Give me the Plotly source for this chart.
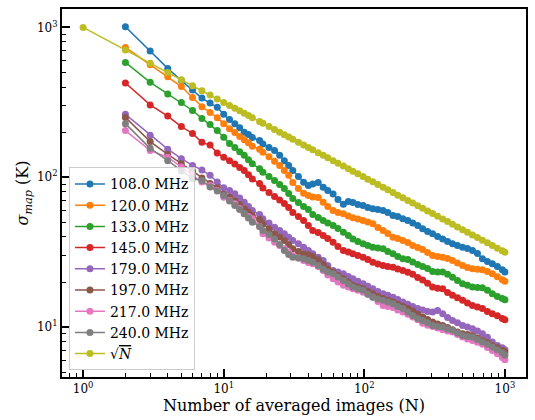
import plotly.graph_objects as go

# x grid (number of averaged images)
N_low_sqrt = [1, 2, 3, 4, 5, 6, 7, 8, 9, 10]
N_low = [2, 3, 4, 5, 6, 7, 8, 9, 10]
N_hi = [11, 12, 13, 14, 15, 16, 18, 19, 21, 23, 25, 27, 29, 31, 34, 37, 40, 43, 47, 51,
        55, 60, 65, 71, 77, 83, 90, 98, 106, 115, 125, 136, 147, 160, 173, 188, 204, 221, 240, 260,
        282, 306, 332, 361, 391, 424, 460, 500, 542, 588, 638, 692, 751, 814, 884, 958, 1000]

labels = ["108.0 MHz", "120.0 MHz", "133.0 MHz", "145.0 MHz",
          "179.0 MHz", "197.0 MHz", "217.0 MHz", "240.0 MHz"]
colors = ["#1f77b4", "#ff7f0e", "#2ca02c", "#d62728",
          "#9467bd", "#8c564b", "#e377c2", "#7f7f7f"]
sqrt_color = "#bcbd22"

s108 = [1010, 697, 533, 442, 383, 338, 313, 293, 263,
        243, 228, 214, 200, 193, 184, 176, 167, 158, 151, 140, 129, 120, 111, 101, 92.6, 88.0, 90.3, 92.2, 85.8,
        81.5, 77.4, 71.0, 66.0, 68.9, 67.8, 65.8, 64.8, 62.8, 61.6, 60.9, 60.0, 58.2, 55.5, 54.7, 52.8, 51.4, 49.5,
        47.6, 45.3, 43.5, 41.9, 40.3, 38.8, 37.3, 36.0, 35.0, 34.1, 33.5, 32.5, 31.0, 28.6, 27.4, 26.5, 25.4, 24.1, 23.3]
s120 = [736, 564, 469, 403, 341, 296, 271, 250, 228,
        211, 199, 187, 178, 170, 161, 154, 147, 137, 128, 120, 111, 103, 92.2, 84.1, 78.2, 75.6, 73.8, 73.2, 68.1,
        63.8, 60.0, 58.2, 57.0, 55.1, 53.6, 52.6, 51.4, 50.3, 48.9, 46.2, 44.1, 42.1, 39.8, 39.0, 37.8, 36.7, 35.0,
        34.0, 33.0, 31.5, 30.1, 29.6, 29.3, 28.7, 27.8, 26.8, 25.8, 25.0, 24.5, 24.3, 24.1, 23.5, 22.7, 21.7, 20.7, 20.2]
s133 = [584, 430, 360, 315, 279, 247, 225, 205, 185,
        168, 158, 148, 140, 131, 123, 114, 108, 101, 95.1, 89.4, 84.1, 77.8, 72.1, 67.8, 63.8, 60.9, 56.4, 53.9, 51.4,
        49.5, 47.6, 45.5, 43.0, 40.9, 38.8, 37.3, 36.0, 35.0, 34.1, 33.7, 33.3, 32.0, 30.9, 29.6, 28.6, 28.3, 27.2,
        26.2, 25.4, 24.6, 23.5, 23.3, 23.3, 22.5, 21.5, 20.5, 19.5, 19.0, 18.5, 18.4, 18.3, 17.6, 16.7, 16.0, 15.5, 15.2]
s145 = [426, 304, 256, 218, 196, 171, 164, 145, 136,
        129, 122.5, 116, 111, 104, 97.3, 90.8, 84.7, 79.1, 74.3, 70.5, 66.8, 62.8, 58.2, 54.7, 51.4, 47.6, 44.1, 42.8,
        40.9, 39.0, 36.9, 34.5, 32.5, 31.7, 30.9, 30.1, 29.3, 28.3, 27.1, 26.4, 25.8, 25.4, 25.1, 24.4, 23.9, 23.2,
        22.5, 21.4, 20.6, 19.6, 18.5, 18.2, 18.0, 17.0, 16.3, 15.7, 15.1, 14.5, 13.95, 13.6, 13.3, 12.7, 12.3, 11.9, 11.4, 11.2]
s179 = [263, 191, 154, 133, 120, 112, 103, 93, 85,
        81.5, 77.5, 72.7, 68.1, 63.8, 60.0, 56.4, 52.8, 49.5, 46.4, 44.1, 41.9, 39.8, 37.8, 36.0, 34.1, 32.5, 30.9,
        29.2, 27.8, 25.8, 23.9, 23.3, 22.7, 21.8, 21.0, 20.2, 19.5, 18.7, 18.0, 17.3, 16.7, 16.3, 15.85, 15.3, 14.7,
        14.2, 13.7, 13.3, 13.0, 12.7, 12.6, 12.9, 12.3, 11.6, 11.08, 10.7, 10.26, 10.0, 9.76, 9.43, 9.04, 8.54, 7.94,
        7.55, 7.27, 7.07]
s197 = [251, 173, 142, 123, 110, 99, 91, 85, 77,
        73.8, 69.9, 65.8, 61.6, 58.6, 55.5, 52.2, 48.9, 45.2, 41.9, 39.9, 37.8, 35.6, 33.3, 32.0, 30.9, 30.3, 29.6,
        28.1, 26.2, 24.4, 23.3, 22.1, 21.0, 19.9, 19.0, 18.5, 18.0, 17.3, 16.7, 16.0, 15.5, 15.1, 14.7, 14.2, 13.7,
        13.3, 12.8, 12.2, 11.7, 11.25, 10.8, 10.5, 10.26, 9.95, 9.61, 9.29, 9.04, 8.94, 8.80, 8.47, 8.15, 7.85, 7.55,
        7.27, 6.99, 6.81]
s217 = [205, 151, 136, 117, 104, 93, 88, 82, 73.6,
        69.9, 66.5, 61.8, 57.0, 54.7, 52.8, 46.9, 41.9, 39.3, 36.9, 35.0, 33.3, 31.7, 30.1, 28.9, 27.8, 27.0, 26.5,
        25.4, 23.9, 22.3, 21.0, 20.0, 19.0, 18.5, 18.0, 17.6, 17.1, 16.5, 15.85, 14.8, 13.95, 13.7, 13.5, 13.0, 12.6,
        12.2, 11.7, 11.2, 10.6, 10.3, 10.1, 9.88, 9.61, 9.43, 9.26, 8.94, 8.58, 8.34, 8.15, 7.91, 7.67, 7.32, 6.99,
        6.63, 6.28, 6.06]
s240 = [228, 156, 129, 110, 98, 95, 86, 81, 75.5,
        69.4, 64.8, 60.9, 57.0, 53.5, 50.1, 46.9, 44.1, 41.5, 38.8, 35.6, 32.5, 30.5, 29.3, 28.9, 28.6, 27.8, 27.1,
        25.8, 24.3, 23.3, 22.7, 21.6, 20.5, 19.4, 18.5, 18.0, 17.6, 16.6, 15.85, 15.4, 15.1, 14.7, 14.3, 13.7, 13.3,
        12.6, 11.97, 11.4, 11.08, 10.7, 10.26, 10.1, 10.0, 9.73, 9.51, 9.15, 8.80, 8.67, 8.58, 8.28, 7.94, 7.67, 7.36,
        7.05, 6.73, 6.48]
s_sqrt = [1000, 707, 577, 500, 447, 408, 378, 354, 333, 316,
          301.5, 288.7, 277.4, 267.3, 258.2, 250, 235.7, 229.4, 218.2, 208.5, 200, 192.5, 185.7, 179.6, 171.5, 164.4,
          158.1, 152.5, 145.9, 140.0, 134.8, 129.1, 124.0, 118.7, 114.0, 109.8, 105.4, 101.0, 97.1, 93.3, 89.4, 85.7,
          82.5, 79.1, 76.0, 72.9, 70.0, 67.3, 64.5, 62.0, 59.5, 57.2, 54.9, 52.6, 50.6, 48.6, 46.6, 44.7, 43.0, 41.2,
          39.6, 38.0, 36.5, 35.0, 33.6, 32.3, 31.6]

series = [s108, s120, s133, s145, s179, s197, s217, s240]
N_freq = N_low + N_hi
N_sqrt = N_low_sqrt + N_hi
for s in series:
    assert len(s) == len(N_freq), len(s)
assert len(s_sqrt) == len(N_sqrt), len(s_sqrt)

FONT = "DejaVu Serif"
MS = 7
fig = go.Figure()
for name, col, ys in zip(labels, colors, series):
    fig.add_trace(go.Scatter(x=N_freq, y=ys, name=name, mode="lines+markers",
                             line=dict(color=col, width=1.5),
                             marker=dict(color=col, size=MS)))
fig.add_trace(go.Scatter(x=N_sqrt, y=s_sqrt,
                         name="√<span style='text-decoration:overline'><i>N</i></span>",
                         mode="lines+markers",
                         line=dict(color=sqrt_color, width=1.5),
                         marker=dict(color=sqrt_color, size=MS)))

minor_x = [m * 10 ** e for e in range(-1, 4) for m in range(2, 10)]
minor_y = [m * 10 ** e for e in range(0, 4) for m in range(2, 10)]

fig.update_layout(
    width=535, height=420,
    margin=dict(l=62, r=7, t=8, b=43),
    paper_bgcolor="white", plot_bgcolor="white",
    font=dict(family=FONT, color="black"),
    showlegend=True,
    legend=dict(x=0.015, y=0.018, xanchor="left", yanchor="bottom",
                bgcolor="rgba(255,255,255,0.8)", bordercolor="#cccccc", borderwidth=1,
                font=dict(family=FONT, size=14)),
    xaxis=dict(type="log", range=[-0.15, 3.15],
               tickmode="array", tickvals=[1, 10, 100, 1000],
               ticktext=["10<sup>0</sup>", "10<sup>1</sup>", "10<sup>2</sup>", "10<sup>3</sup>"],
               ticks="inside", ticklen=8, tickwidth=1.5, tickcolor="black",
               tickfont=dict(family=FONT, size=12),
               minor=dict(tickmode="array", tickvals=minor_x, ticks="inside", ticklen=4,
                          tickwidth=1, tickcolor="black"),
               showline=True, linecolor="black", linewidth=2, mirror=True,
               showgrid=False, zeroline=False,
               title=dict(text="Number of averaged images (N)", font=dict(family=FONT, size=16),
                          standoff=4)),
    yaxis=dict(type="log", range=[0.667, 3.123],
               tickmode="array", tickvals=[10, 100, 1000],
               ticktext=["10<sup>1</sup>", "10<sup>2</sup>", "10<sup>3</sup>"],
               ticks="inside", ticklen=8, tickwidth=1.5, tickcolor="black",
               tickfont=dict(family=FONT, size=12),
               minor=dict(tickmode="array", tickvals=minor_y, ticks="inside", ticklen=4,
                          tickwidth=1, tickcolor="black"),
               showline=True, linecolor="black", linewidth=2, mirror=True,
               showgrid=False, zeroline=False,
               title=dict(text="<i>σ</i><sub><i>map</i></sub> (K)", font=dict(family=FONT, size=16),
                          standoff=4)),
)

fig.write_html("out.html")
